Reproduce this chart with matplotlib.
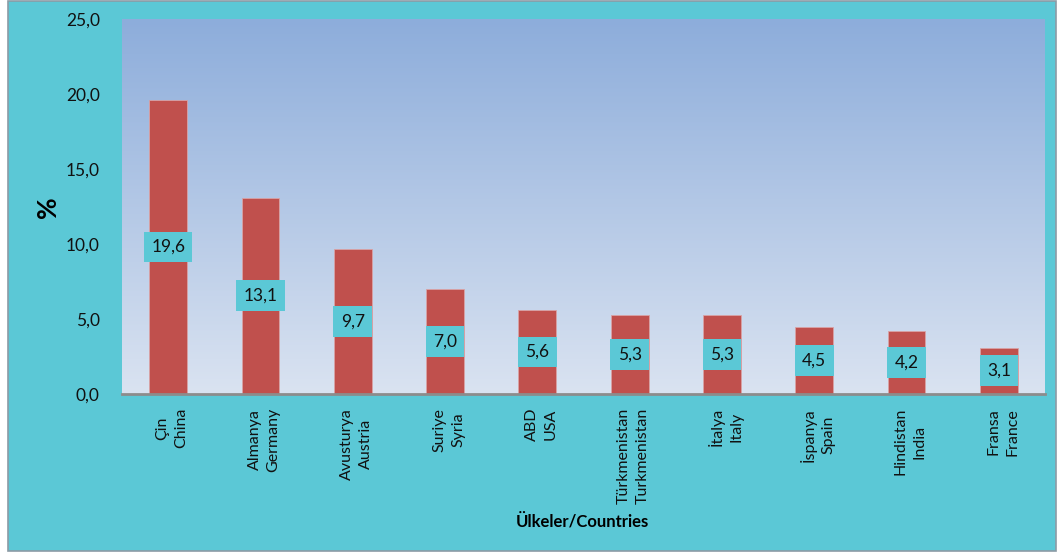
import numpy as np
import matplotlib.pyplot as plt
from matplotlib.colors import LinearSegmentedColormap
from matplotlib.patches import Rectangle

plt.rcParams['font.family'] = ['Lato', 'DejaVu Sans']

countries_tr = ['Çin', 'Almanya', 'Avusturya', 'Suriye', 'ABD', 'Türkmenistan',
                'İtalya', 'İspanya', 'Hindistan', 'Fransa']
countries_en = ['China', 'Germany', 'Austria', 'Syria', 'USA', 'Turkmenistan',
                'Italy', 'Spain', 'India', 'France']
shares = [19.6, 13.1, 9.7, 7.0, 5.6, 5.3, 5.3, 4.5, 4.2, 3.1]

cyan = '#5BC8D6'
bar_color = '#C0504D'

fig = plt.figure(figsize=(10.64, 5.54), dpi=100)
fig.patch.set_facecolor('white')
# cyan chart area with grey border
fig.patches.append(Rectangle((8 / 1064, 3 / 554), 1048 / 1064, 550 / 554,
                             transform=fig.transFigure, facecolor=cyan,
                             edgecolor='#8C9BA5', linewidth=1.2, zorder=-10))

ax = fig.add_axes([122 / 1064, 1 - 394 / 554, 923 / 1064, 375 / 554])
ax.set_facecolor('none')

x = np.arange(len(shares))
ax.set_xlim(-0.5, len(shares) - 0.5)
ax.set_ylim(0, 25)

# gradient background of plot area
grad = LinearSegmentedColormap.from_list('bg', ['#DAE3F1', '#8DADDB'])
ax.imshow(np.linspace(0, 1, 256).reshape(-1, 1), cmap=grad, aspect='auto',
          extent=(-0.5, len(shares) - 0.5, 0, 25), origin='lower', zorder=0)

ax.bar(x, shares, width=0.41, color=bar_color, edgecolor='#D9A3A6',
       linewidth=0.6, zorder=2)

for xi, v in zip(x, shares):
    ax.text(xi, v / 2, f'{v:.1f}'.replace('.', ','), ha='center', va='center',
            fontsize=12.5, color='#111111', zorder=3,
            bbox=dict(boxstyle='square,pad=0.42', facecolor=cyan, edgecolor='none'))

ax.set_yticks(np.arange(0, 26, 5))
ax.set_yticklabels([f'{t:.1f}'.replace('.', ',') for t in np.arange(0, 26, 5)],
                   fontsize=12.5)
ax.set_xticks(x + 0.04)
ax.set_xticklabels([f'{a}\n{b}' for a, b in zip(countries_tr, countries_en)],
                   rotation=90, fontsize=11.5, multialignment='center',
                   linespacing=1.45)
ax.tick_params(axis='both', length=0, colors='#111111')
ax.tick_params(axis='y', pad=16)
ax.tick_params(axis='x', pad=10)

for s in ['top', 'right', 'left']:
    ax.spines[s].set_visible(False)
ax.spines['bottom'].set_color('#8C8C8C')
ax.spines['bottom'].set_linewidth(2)
ax.spines['bottom'].set_zorder(4)

fig.text(48 / 1064, 1 - 207 / 554, '%', rotation=90, ha='center', va='center',
         fontsize=19, fontweight='bold')
fig.text(582 / 1064, 1 - 521 / 554, 'Ülkeler/Countries', ha='center',
         va='center', fontsize=12, fontweight='bold')

fig.savefig('out.png', dpi=100, facecolor=fig.get_facecolor())
